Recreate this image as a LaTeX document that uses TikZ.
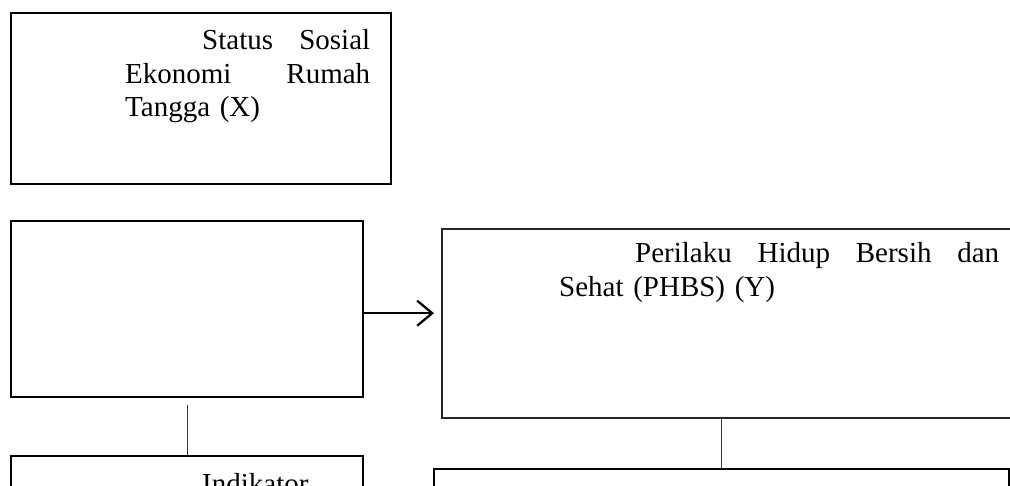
\documentclass[tikz,border=0pt]{standalone}
\usepackage{fontspec}
\setmainfont{Liberation Serif}
\usepackage{tikz}
\usetikzlibrary{arrows.meta}

\begin{document}
\begin{tikzpicture}[x=1pt,y=-1pt,
		box/.style={draw,line width=2.4pt,inner sep=0pt,anchor=north west},
		txt/.style={inner sep=0pt,anchor=base west,align=left,font=\fontsize{29}{33.5}\selectfont},
		link/.style={draw=black!80,line width=1.3pt},
		arr/.style={line width=2.3pt,-{Straight Barb[length=15pt,width=25pt,line width=2.3pt]}}]
			
			\useasboundingbox (0,0) rectangle (1010,486);
			\clip (0,0) rectangle (1010,486);
			
			\node[box,minimum width=380pt,minimum height=171pt] (X) at (10,12) {};
			\node[txt,text width=245pt] (TX) at (125,50) {\hspace*{77pt}Status\hfill Sosial\\Ekonomi\hfill Rumah\\Tangga (X)};
			
			\node[box,minimum width=352pt,minimum height=176pt] (XB) at (10,220) {};
			\node[box,minimum width=352pt,minimum height=90pt] (XI) at (10,455) {};
			\node[txt] (TXI) at (202,493) {Indikator};
			
			\node[box,draw=black!85,line width=1.9pt,minimum width=600pt,minimum height=189pt] (Y) at (441,228) {};
			\node[txt,text width=440pt] (TY) at (559,263) {\hspace*{76pt}Perilaku\hfill Hidup\hfill Bersih\hfill dan\\Sehat (PHBS) (Y)};
			\node[box,minimum width=575pt,minimum height=80pt] (YI) at (433,468) {};
			
			\draw[arr,shorten >=7pt] ([yshift=-4pt]XB.east) -- ([yshift=-4pt]XB.east -| Y.west);
			\draw[link,shorten <=7pt] (XB) -- (XI);
			\draw[link] (YI.north) -- (YI.north |- Y.south);
			
		\end{tikzpicture}
\end{document}
